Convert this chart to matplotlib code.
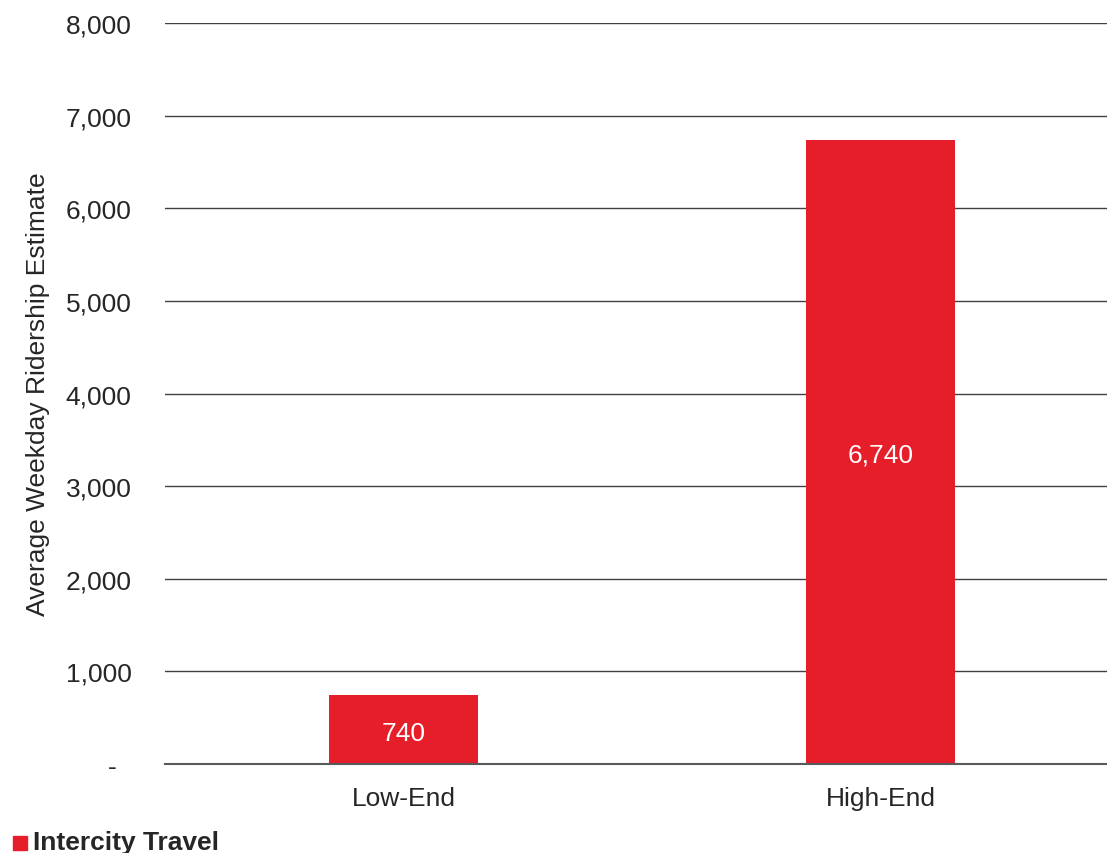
import matplotlib
matplotlib.use("Agg")
import matplotlib.pyplot as plt
from matplotlib.ticker import FuncFormatter
import matplotlib.transforms as mtransforms

categories = ["Low-End", "High-End"]
values = [740, 6740]
series_name = "Intercity Travel"
y_ticks = [0, 1000, 2000, 3000, 4000, 5000, 6000, 7000, 8000]

plt.rcParams['font.family'] = ['Liberation Sans', 'DejaVu Sans']
color = "#E61E2A"
text_color = "#262626"
fs = 19

fig = plt.figure(figsize=(11.07, 8.54), dpi=100)
ax = fig.add_axes([0.149, 0.1042, 0.851, 0.8677])

x = list(range(len(categories)))
bars = ax.bar(x, values, width=0.312, color=color, zorder=3, label=series_name)
ax.set_xlim(-0.5, 1.475)
ax.set_ylim(0, 8000)
ax.set_yticks(y_ticks)
ax.yaxis.set_major_formatter(FuncFormatter(lambda v, p: "-  " if v == 0 else f"{int(v):,}"))
ax.set_xticks(x)
ax.set_xticklabels(categories)
ax.tick_params(axis='both', length=0, labelsize=fs, colors=text_color)
ax.tick_params(axis='y', pad=24)
ax.tick_params(axis='x', pad=16)
for s in ax.spines.values():
    s.set_visible(False)
ax.grid(axis='y', color="#404040", linewidth=1.0, zorder=1)
ax.set_axisbelow(True)
ax.axhline(0, color="#595959", linewidth=1.5, zorder=4, clip_on=False)

ax.set_ylabel("Average Weekday Ridership Estimate", fontsize=fs, color=text_color)
ax.yaxis.set_label_coords(-0.122, 0.5)

offset = mtransforms.ScaledTranslation(0, -3 / 100, fig.dpi_scale_trans)
for b, v in zip(bars, values):
    ax.text(b.get_x() + b.get_width() / 2, v / 2, f"{v:,}", ha='center', va='center',
            color='white', fontsize=fs, zorder=4, transform=ax.transData + offset)

fig.patches.append(plt.Rectangle((13 / 1107, 1 - 851 / 854), 14 / 1107, 14 / 854,
                                 transform=fig.transFigure, color=color, figure=fig))
fig.text(33 / 1107, 1 - 843 / 854, series_name, fontsize=fs, fontweight='bold',
         color=text_color, va='center', ha='left')

fig.savefig("out.png", dpi=100)
